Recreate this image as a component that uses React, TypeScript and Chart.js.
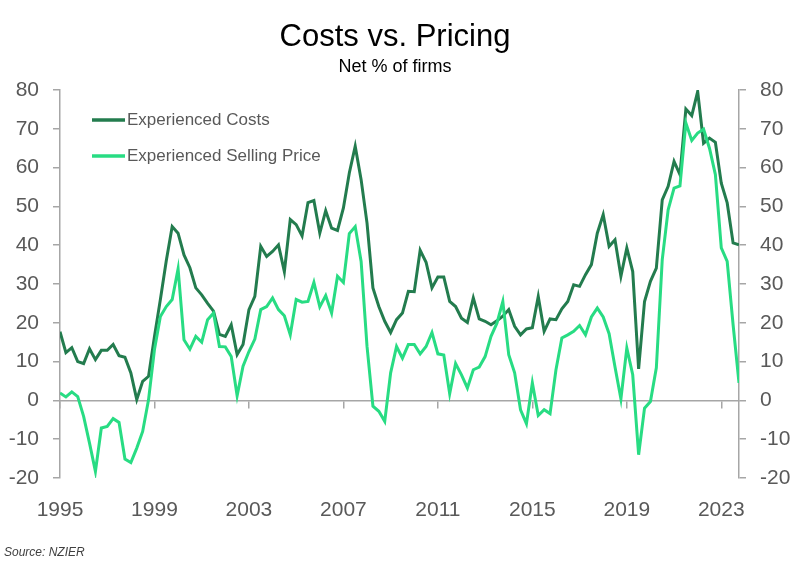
import React, { useEffect, useRef } from "react";
import { Chart, registerables } from "chart.js";

Chart.register(...registerables);

// ---- Data (quarterly, 1995 Q1 onward) ----
const START_YEAR = 1995;
const END_X = 2023.75;
const yearTicks = [1995, 1999, 2003, 2007, 2011, 2015, 2019, 2023];

const experiencedCosts = [
  17.7, 12.3, 13.6, 10, 9.5, 13.3, 10.5, 12.9, 12.9, 14.4,
  11.5, 11.1, 7.1, 0.2, 4.9, 6.2, 16.5, 26, 36, 44.8,
  43.1, 37.5, 34.2, 29, 27.2, 25, 23, 17, 16.5, 19.5,
  11.8, 14.4, 23.4, 26.8, 39.7, 37.1, 38.4, 40.1, 33.2, 46.6,
  45.3, 42.4, 51, 51.5, 43.1, 48.9, 44.4, 43.8, 49.6, 58.6,
  65.5, 56.9, 45.7, 29, 24.2, 20.4, 17.5, 20.8, 22.5, 28.1,
  28, 38.7, 35.6, 29, 31.8, 31.8, 25.5, 24.2, 21.2, 20.1,
  26.4, 21, 20.4, 19.5, 20.5, 21.7, 23.4, 19.1, 16.9, 18.4,
  18.7, 26.8, 17.8, 21, 20.8, 23.6, 25.5, 29.8, 29.4, 32.4,
  35, 43.1, 47.9, 39.7, 41.4, 32, 39.3, 33.2, 8.1, 25.5,
  30.7, 34.1, 51.7, 55.2, 61.6, 58.2, 75.1, 73.4, 79.6, 66.3,
  67.6, 66.5, 56, 50.9, 40.6, 40.1,
];

const experiencedSellingPrice = [
  1.9, 0.9, 2.2, 1, -4.1, -11, -18.3, -7.1, -6.7, -4.7,
  -5.7, -15.1, -16, -12.3, -8, 0.2, 13.1, 21.6, 24.2, 26,
  33.9, 15.6, 13.2, 16.5, 15, 20.8, 22.5, 13.9, 13.8, 11.3,
  1.2, 8.8, 12.6, 15.8, 23.4, 24.2, 26.4, 23.4, 21.8, 16.9,
  26, 25.3, 25.5, 30.4, 24.1, 27, 22.5, 32, 30.4, 43,
  44.8, 35.8, 13.9, -1.5, -2.8, -5.4, 7.1, 13.9, 10.9, 14.4,
  14.4, 12, 13.9, 17.5, 12, 11.7, 1.7, 9.5, 6.6, 3.2,
  7.9, 8.6, 11.3, 16.5, 19.9, 25.5, 11.8, 7.1, -2.4, -6,
  4.5, -3.9, -2.4, -3.4, 7.9, 16.1, 16.9, 17.8, 19.3, 16.9,
  21.5, 23.8, 21.5, 17.2, 8.6, 0.4, 13.5, 6.6, -14, -2,
  -0.3, 8.4, 36.3, 49.1, 54.7, 55.3, 71.5, 67, 68.9, 69.9,
  65, 58.2, 39.3, 35.8, 19.5, 4.5,
];

const quarterX = experiencedCosts.map((_, i) => START_YEAR + i / 4);

const TITLE = "Costs vs. Pricing";
const SUBTITLE = "Net % of firms";
const SOURCE = "Source: NZIER";
const SERIES_NAMES = ["Experienced Costs", "Experienced Selling Price"];

// ---- Styles ----
const FONT = "'Liberation Sans', Arial, sans-serif";
const DARK = "#237c4e";
const LIGHT = "#28dc83";
const AXIS = "#a6a6a6";
const LABEL = "#595959";

const overlayPlugin = {
  id: "overlay",
  afterDraw(chart: any) {
    const { ctx, chartArea } = chart;
    ctx.save();
    ctx.textBaseline = "middle";
    ctx.textAlign = "center";
    ctx.fillStyle = "#000000";
    ctx.font = `31px ${FONT}`;
    ctx.fillText(TITLE, 395, 37);
    ctx.font = `18px ${FONT}`;
    ctx.fillText(SUBTITLE, 395, 67.5);

    // legend inside the plot area
    const ds = chart.data.datasets;
    ds.forEach((d: any, i: number) => {
      const y = chartArea.top + 30 + i * 36;
      const x0 = chartArea.left + 32;
      ctx.strokeStyle = d.borderColor;
      ctx.lineWidth = 3.5;
      ctx.beginPath();
      ctx.moveTo(x0, y);
      ctx.lineTo(x0 + 33, y);
      ctx.stroke();
      ctx.fillStyle = LABEL;
      ctx.font = `17px ${FONT}`;
      ctx.textAlign = "left";
      ctx.fillText(d.label, x0 + 35, y);
    });

    ctx.font = `italic 12px ${FONT}`;
    ctx.fillStyle = "#404040";
    ctx.textAlign = "left";
    ctx.fillText(SOURCE, 4, 553);
    ctx.restore();
  },
};

export default function App() {
  const ref = useRef<HTMLCanvasElement | null>(null);

  useEffect(() => {
    document.body.style.margin = "0";
    const canvas = ref.current;
    if (!canvas) return;
    const setYearTicks = (scale: any) => {
      scale.ticks = yearTicks.map((v) => ({ value: v }));
    };
    const chart = new Chart(canvas, {
      type: "line",
      data: {
        datasets: [
          {
            label: SERIES_NAMES[0],
            data: quarterX.map((x, i) => ({ x, y: experiencedCosts[i] })),
            borderColor: DARK,
            backgroundColor: DARK,
            borderWidth: 3,
            pointRadius: 0,
            tension: 0,
            order: 1,
            xAxisID: "x",
            yAxisID: "y",
          },
          {
            label: SERIES_NAMES[1],
            data: quarterX.map((x, i) => ({ x, y: experiencedSellingPrice[i] })),
            borderColor: LIGHT,
            backgroundColor: LIGHT,
            borderWidth: 3,
            pointRadius: 0,
            tension: 0,
            order: 0,
            xAxisID: "x",
            yAxisID: "y",
          },
        ],
      },
      options: {
        responsive: false,
        animation: false,
        devicePixelRatio: 1,
        layout: { padding: { top: 90, left: 0, right: 0, bottom: 0 } },
        plugins: {
          legend: { display: false },
          title: { display: false },
          tooltip: { enabled: false },
        },
        scales: {
          x: {
            type: "linear",
            axis: "x",
            min: START_YEAR,
            max: END_X,
            position: { y: 0 } as any,
            afterBuildTicks: setYearTicks,
            ticks: { display: false },
            grid: {
              drawOnChartArea: false,
              drawTicks: true,
              tickLength: 7,
              color: AXIS,
              lineWidth: 1.5,
            },
            border: { display: true, color: AXIS, width: 1.5 },
          },
          x2: {
            type: "linear",
            axis: "x",
            position: "bottom",
            min: START_YEAR,
            max: END_X,
            afterBuildTicks: setYearTicks,
            grid: { display: false },
            border: { display: false },
            ticks: {
              autoSkip: false,
              maxRotation: 0,
              padding: 12,
              color: LABEL,
              font: { family: FONT, size: 21 },
              callback: (v: any) => String(v),
            },
            afterFit: (s: any) => {
              s.height = 87;
            },
          },
          y: {
            type: "linear",
            position: "left",
            min: -20,
            max: 80,
            ticks: {
              stepSize: 10,
              padding: 14,
              color: LABEL,
              font: { family: FONT, size: 21 },
            },
            grid: {
              drawOnChartArea: false,
              tickLength: 7,
              color: AXIS,
              lineWidth: 1.5,
            },
            border: { display: true, color: AXIS, width: 1.5 },
            afterFit: (s: any) => {
              s.width = 60;
            },
          },
          y2: {
            type: "linear",
            axis: "y",
            position: "right",
            min: -20,
            max: 80,
            ticks: {
              stepSize: 10,
              padding: 14,
              color: LABEL,
              font: { family: FONT, size: 21 },
            },
            grid: {
              drawOnChartArea: false,
              tickLength: 7,
              color: AXIS,
              lineWidth: 1.5,
            },
            border: { display: true, color: AXIS, width: 1.5 },
            afterFit: (s: any) => {
              s.width = 61;
            },
          },
        },
      },
      plugins: [overlayPlugin],
    });
    return () => chart.destroy();
  }, []);

  return (
    <div style={{ width: 800, height: 565, position: "relative", background: "#fff" }}>
      <canvas ref={ref} width={800} height={565} style={{ display: "block" }} />
    </div>
  );
}
